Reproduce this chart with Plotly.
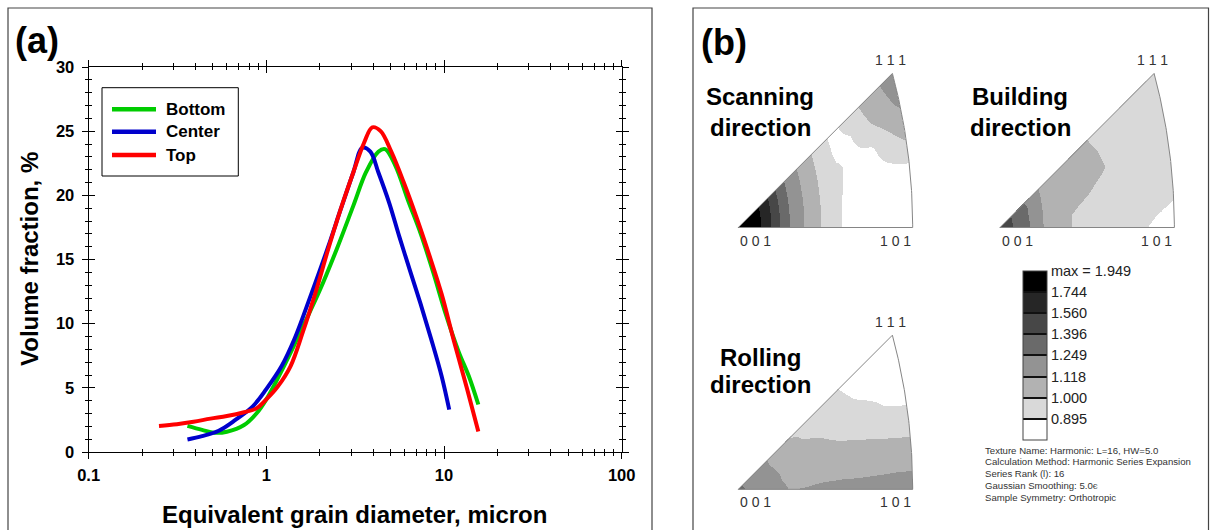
import numpy as np
import plotly.graph_objects as go

W, H = 1211, 530
FONT = "Liberation Sans, Arial, sans-serif"

# ---------------- Panel (a): grain size distributions ----------------
series_names = ["Bottom", "Center", "Top"]
series_colors = ["#00cc00", "#0000cc", "#ff0000"]

bottom_x = [0.36, 0.435, 0.51, 0.60, 0.75, 0.88, 1.0, 1.29, 1.61, 2.0, 2.49, 3.09, 3.64,
            4.27, 4.66, 5.33, 6.28, 7.4, 8.7, 10.2, 12.1, 13.8, 15.6]
bottom_y = [2.03, 1.72, 1.5, 1.58, 2.1, 3.0, 4.1, 7.0, 9.8, 12.6, 15.8, 19.2, 21.8,
            23.4, 23.6, 22.3, 19.6, 17.0, 14.0, 10.8, 7.8, 5.9, 3.7]

center_x = [0.36, 0.435, 0.54, 0.67, 0.84, 1.0, 1.22, 1.44, 1.79, 2.23, 2.62, 3.09, 3.47,
            3.85, 4.27, 4.92, 5.6, 6.45, 7.4, 8.47, 9.7, 10.7]
center_y = [0.98, 1.24, 1.66, 2.5, 3.56, 4.9, 6.7, 8.8, 12.3, 16.0, 18.9, 21.8, 23.7,
            23.4, 21.8, 19.4, 16.8, 14.1, 11.5, 8.8, 5.9, 3.3]

top_x = [0.249, 0.314, 0.39, 0.485, 0.60, 0.75, 0.88, 1.0, 1.16, 1.37, 1.61, 1.9, 2.23,
         2.62, 3.09, 3.55, 3.95, 4.4, 5.05, 5.94, 7.0, 8.24, 9.7, 11.4, 13.5, 15.6]
top_y = [2.03, 2.16, 2.35, 2.6, 2.8, 3.1, 3.4, 4.1, 5.1, 6.7, 9.4, 12.5, 15.8,
         18.9, 21.8, 24.1, 25.3, 25.0, 23.4, 21.0, 18.3, 15.4, 12.3, 8.6, 4.9, 1.6]

x_title = "Equivalent grain diameter, micron"
y_title = "Volume fraction, %"

# ---------------- Panel (b): inverse pole figures ----------------
levels = [0.895, 1.000, 1.118, 1.249, 1.396, 1.560, 1.744]
level_max = 1.949
band_colors = ["#ffffff", "#d9d9d9", "#b2b2b2", "#939393", "#6a6a6a", "#474747", "#262626", "#000000"]

ipf_phi = [0, 10, 20, 30, 38, 45]                      # angle from [001]-[101] edge, deg
ipf_f = [0, .05, .1, .15, .2, .25, .3, .4, .5, .6, .7, .8, .9, 1.0]   # fraction of radius to [101]-[111] arc

scanning = [
    [1.95, 1.90, 1.82, 1.70, 1.53, 1.37, 1.245, 1.085, 0.975, 0.893, 0.86, 0.85, 0.85, 0.85],
    [1.95, 1.90, 1.82, 1.70, 1.53, 1.37, 1.245, 1.085, 0.975, 0.893, 0.86, 0.85, 0.85, 0.855],
    [1.95, 1.90, 1.82, 1.70, 1.53, 1.37, 1.245, 1.085, 0.975, 0.900, 0.86, 0.86, 0.87, 0.885],
    [1.95, 1.90, 1.82, 1.70, 1.53, 1.37, 1.245, 1.085, 0.975, 0.905, 0.87, 0.88, 0.96, 1.04],
    [1.95, 1.90, 1.82, 1.70, 1.53, 1.37, 1.245, 1.085, 0.975, 0.880, 0.89, 0.98, 1.06, 1.14],
    [1.95, 1.90, 1.82, 1.70, 1.53, 1.37, 1.245, 1.085, 0.970, 0.875, 0.915, 1.02, 1.10, 1.20],
]
building = [
    [1.47, 1.42, 1.37, 1.28, 1.20, 1.117, 1.08, 1.005, 0.97, 0.95, 0.93, 0.91, 0.88, 0.86],
    [1.47, 1.42, 1.37, 1.28, 1.20, 1.117, 1.08, 1.005, 0.97, 0.95, 0.935, 0.93, 0.915, 0.90],
    [1.47, 1.42, 1.37, 1.28, 1.20, 1.117, 1.08, 1.03, 1.005, 0.975, 0.95, 0.94, 0.93, 0.92],
    [1.47, 1.42, 1.37, 1.28, 1.20, 1.117, 1.08, 1.05, 1.03, 1.01, 0.98, 0.96, 0.95, 0.94],
    [1.47, 1.42, 1.37, 1.28, 1.20, 1.117, 1.08, 1.05, 1.025, 1.002, 0.97, 0.96, 0.955, 0.95],
    [1.46, 1.42, 1.34, 1.25, 1.19, 1.117, 1.08, 1.05, 1.02, 0.99, 0.97, 0.96, 0.955, 0.95],
]
rolling = [
    [1.27, 1.24, 1.21, 1.18, 1.16, 1.14, 1.112, 1.125, 1.15, 1.16, 1.16, 1.16, 1.16, 1.16],
    [1.27, 1.24, 1.20, 1.17, 1.14, 1.12, 1.10, 1.085, 1.08, 1.08, 1.08, 1.085, 1.09, 1.09],
    [1.27, 1.235, 1.20, 1.165, 1.135, 1.115, 1.09, 1.06, 1.045, 1.03, 1.015, 1.002, 0.98, 0.96],
    [1.27, 1.23, 1.19, 1.15, 1.125, 1.10, 1.075, 1.04, 1.008, 0.975, 0.95, 0.92, 0.885, 0.86],
    [1.27, 1.22, 1.18, 1.145, 1.115, 1.09, 1.06, 0.998, 0.965, 0.93, 0.90, 0.87, 0.85, 0.84],
    [1.27, 1.22, 1.175, 1.14, 1.11, 1.065, 1.008, 0.975, 0.945, 0.91, 0.88, 0.86, 0.85, 0.84],
]
ipf_tables = [scanning, building, rolling]
ipf_titles = [("Scanning", "direction"), ("Building", "direction"), ("Rolling", "direction")]
pole_labels = ["0 0 1", "1 0 1", "1 1 1"]
legend_labels = [f"{v:.3f}" for v in levels] + [f"max = {level_max:.3f}"]
info_lines = ["Texture Name: Harmonic: L=16, HW=5.0",
              "Calculation Method: Harmonic Series Expansion",
              "Series Rank (l): 16",
              "Gaussian Smoothing: 5.0\u0454",
              "Sample Symmetry: Orthotropic"]


def px(x):
    return x / W


def py(y):
    return 1 - y / H


fig = go.Figure()

# ---- panel (a) traces
for name, xs, ys, col in zip(series_names, [bottom_x, center_x, top_x],
                             [bottom_y, center_y, top_y], series_colors):
    fig.add_trace(go.Scatter(x=xs, y=ys, name=name, mode="lines",
                             line=dict(color=col, width=4, shape="spline", smoothing=1.0),
                             xaxis="x", yaxis="y", showlegend=False))
# invisible trace for overlay axes (inside ticks)
fig.add_trace(go.Scatter(x=[1], y=[0], mode="markers", marker=dict(opacity=0),
                         xaxis="x5", yaxis="y5", showlegend=False, hoverinfo="skip"))

tickfont = dict(family=FONT, size=16.5, color="black", weight="bold")
ax_common = dict(showgrid=False, zeroline=False, tickcolor="black", tickwidth=1, automargin=False)
fig.update_layout(
    xaxis=dict(domain=[px(88.6), px(621.7)], anchor="y", type="log", range=[-1, 2], dtick=1,
               ticks="outside", ticklen=6, showline=True, linecolor="black", linewidth=1,
               mirror="allticks", tickfont=tickfont, ticklabelstandoff=2,
               minor=dict(ticks="outside", ticklen=3, dtick="D1", tickcolor="black", showgrid=False),
               **ax_common),
    yaxis=dict(domain=[py(452), py(67)], anchor="x", range=[0, 30], dtick=5,
               ticks="outside", ticklen=6, showline=True, linecolor="black", linewidth=1,
               mirror="allticks", tickfont=tickfont, ticklabelstandoff=4,
               minor=dict(ticks="outside", ticklen=3, dtick=1, tickcolor="black", showgrid=False),
               **ax_common),
    xaxis5=dict(overlaying="x", anchor="y5", type="log", range=[-1, 2], dtick=1,
                ticks="inside", ticklen=6, mirror="allticks", showticklabels=False, showline=False,
                minor=dict(ticks="inside", ticklen=3, dtick="D1", tickcolor="black", showgrid=False),
                **ax_common),
    yaxis5=dict(overlaying="y", anchor="x5", range=[0, 30], dtick=5,
                ticks="inside", ticklen=6, mirror="allticks", showticklabels=False, showline=False,
                minor=dict(ticks="inside", ticklen=3, dtick=1, tickcolor="black", showgrid=False),
                **ax_common),
)

# ---- panel (b) inverse pole figures
S = 421.0  # px per stereographic unit
origins = [(738.3, 227.5), (1000.0, 227.5), (738.3, 489.3)]
XR = [-0.02, 0.44]
YR = [-0.02, 0.39]
r101 = np.sqrt(2) - 1
r111 = (np.sqrt(3) - 1) / 2


def ipf_field(table):
    step = 0.0012
    xs = np.arange(0, r101 + step, step)
    ys = np.arange(0, r111 + step, step)
    X, Y = np.meshgrid(xs, ys)
    R = np.hypot(X, Y)
    PHI = np.degrees(np.arctan2(Y, X))
    c = np.cos(np.radians(PHI))
    RB = -c + np.sqrt(c * c + 1)
    F = np.clip(R / RB, 0, 1)
    inside = (Y <= X + 1e-12) & (R <= RB + 1e-12)
    tab = np.array(table, dtype=float)
    flat_f = F.ravel()
    rows = np.stack([np.interp(flat_f, ipf_f, tab[k]) for k in range(len(ipf_phi))])
    ph = PHI.ravel()
    phis = np.array(ipf_phi, dtype=float)
    idx = np.clip(np.searchsorted(phis, ph, side="right") - 1, 0, len(phis) - 2)
    w = np.clip((ph - phis[idx]) / (phis[idx + 1] - phis[idx]), 0, 1)
    n = np.arange(ph.size)
    val = (1 - w) * rows[idx, n] + w * rows[idx + 1, n]
    band = np.digitize(val, levels).reshape(X.shape).astype(object)
    band[~inside] = None
    return xs, ys, band.tolist()


cscale = []
for i, col in enumerate(band_colors):
    cscale.append([i / 8, col])
    cscale.append([(i + 1) / 8, col])

th = np.radians(np.linspace(0, 15, 60))
arc_x = list(-1 + np.sqrt(2) * np.cos(th))
arc_y = list(np.sqrt(2) * np.sin(th))
tri_x = [0.0] + arc_x + [0.0]
tri_y = [0.0] + arc_y + [0.0]

annotations = []
for k, (table, (ox, oy), (t1, t2)) in enumerate(zip(ipf_tables, origins, ipf_titles)):
    ax_id = k + 2
    xs, ys, z = ipf_field(table)
    fig.add_trace(go.Heatmap(x=xs, y=ys, z=z, coloraxis="coloraxis", zsmooth=False,
                             xaxis=f"x{ax_id}", yaxis=f"y{ax_id}", hoverinfo="skip"))
    fig.add_trace(go.Scatter(x=tri_x, y=tri_y, mode="lines", line=dict(color="#858585", width=1),
                             xaxis=f"x{ax_id}", yaxis=f"y{ax_id}", showlegend=False, hoverinfo="skip"))
    fig.layout[f"xaxis{ax_id}"] = dict(domain=[px(ox + XR[0] * S), px(ox + XR[1] * S)],
                                       range=XR, anchor=f"y{ax_id}", visible=False, fixedrange=True)
    fig.layout[f"yaxis{ax_id}"] = dict(domain=[py(oy - YR[0] * S), py(oy - YR[1] * S)],
                                       range=YR, anchor=f"x{ax_id}", visible=False, fixedrange=True)
    lab_font = dict(family=FONT, size=14, color="#333333")
    annotations += [
        dict(x=0, y=0, xref=f"x{ax_id}", yref=f"y{ax_id}", text=pole_labels[0], showarrow=False,
             xanchor="left", yanchor="middle", yshift=-13, font=lab_font),
        dict(x=r101, y=0, xref=f"x{ax_id}", yref=f"y{ax_id}", text=pole_labels[1], showarrow=False,
             xanchor="right", yanchor="middle", yshift=-13, font=lab_font),
        dict(x=r111, y=r111, xref=f"x{ax_id}", yref=f"y{ax_id}", text=pole_labels[2], showarrow=False,
             xanchor="center", yanchor="middle", yshift=13, xshift=-2, font=lab_font),
    ]
    tfont = dict(family=FONT, size=24, color="black", weight="bold")
    cx = [760, 1020, 760][k]
    ys_t = [(97, 127), (97, 127), (357, 384)][k]
    annotations += [
        dict(x=px(cx), y=py(ys_t[0]), xref="paper", yref="paper", text=t1, showarrow=False,
             xanchor="center", yanchor="middle", font=tfont),
        dict(x=px(cx), y=py(ys_t[1]), xref="paper", yref="paper", text=t2, showarrow=False,
             xanchor="center", yanchor="middle", font=tfont),
    ]

fig.update_layout(coloraxis=dict(
    cmin=-0.5, cmax=7.5, colorscale=cscale,
    colorbar=dict(x=px(1023.3), xanchor="left", xpad=0, ypad=0,
                  y=py(355.4), yanchor="middle", lenmode="pixels", len=169.3,
                  thickness=24, outlinewidth=1, outlinecolor="#444444",
                  tickvals=[i + 0.5 for i in range(8)], ticktext=legend_labels,
                  ticks="inside", ticklen=24, tickwidth=1.5, tickcolor="#111111",
                  tickfont=dict(family=FONT, size=14.5, color="#222222"))))

# info text
for i, line in enumerate(info_lines):
    annotations.append(dict(x=px(983), y=py(450 + i * 11.8), xref="paper", yref="paper", text=line,
                            showarrow=False, xanchor="left", yanchor="middle",
                            font=dict(family=FONT, size=9.6, color="#333333")))

# panel labels and axis titles
big = dict(family=FONT, size=36, color="black", weight="bold")
annotations += [
    dict(x=px(37), y=py(41), xref="paper", yref="paper", text="(a)", showarrow=False,
         xanchor="center", yanchor="middle", font=big),
    dict(x=px(724), y=py(43), xref="paper", yref="paper", text="(b)", showarrow=False,
         xanchor="center", yanchor="middle", font=big),
    dict(x=px(355), y=py(514), xref="paper", yref="paper", text=x_title, showarrow=False,
         xanchor="center", yanchor="middle",
         font=dict(family=FONT, size=24, color="black", weight="bold")),
    dict(x=px(29.5), y=py(259.5), xref="paper", yref="paper", text=y_title, showarrow=False,
         textangle=-90, xanchor="center", yanchor="middle",
         font=dict(family=FONT, size=24, color="black", weight="bold")),
]

# manual legend for panel (a)
shapes = [dict(type="rect", xref="paper", yref="paper", x0=px(102), x1=px(238.3), y0=py(176), y1=py(87.7),
               line=dict(color="black", width=1), fillcolor="rgba(0,0,0,0)")]
for i, (name, col) in enumerate(zip(series_names, series_colors)):
    yy = [109.3, 131.7, 155.0][i]
    shapes.append(dict(type="line", xref="paper", yref="paper", x0=px(112), x1=px(156),
                       y0=py(yy), y1=py(yy), line=dict(color=col, width=4.5)))
    annotations.append(dict(x=px(164), y=py(yy), xref="paper", yref="paper", text=name,
                            showarrow=False, xanchor="left", yanchor="middle",
                            font=dict(family=FONT, size=17, color="black", weight="bold")))

# panel frames
shapes += [
    dict(type="rect", xref="paper", yref="paper", x0=px(8), x1=px(652), y0=-0.1, y1=py(8),
         line=dict(color="#444444", width=1.2)),
    dict(type="rect", xref="paper", yref="paper", x0=px(693), x1=px(1208.5), y0=-0.1, y1=py(8),
         line=dict(color="#444444", width=1.2)),
]

fig.update_layout(width=W, height=H, margin=dict(l=0, r=0, t=0, b=0, autoexpand=False),
                  paper_bgcolor="white", plot_bgcolor="white",
                  annotations=annotations, shapes=shapes, showlegend=False,
                  font=dict(family=FONT))

fig.write_html("out.html", config={"displayModeBar": False},
               post_script="document.body.style.margin='0px';document.body.style.overflow='hidden';")
